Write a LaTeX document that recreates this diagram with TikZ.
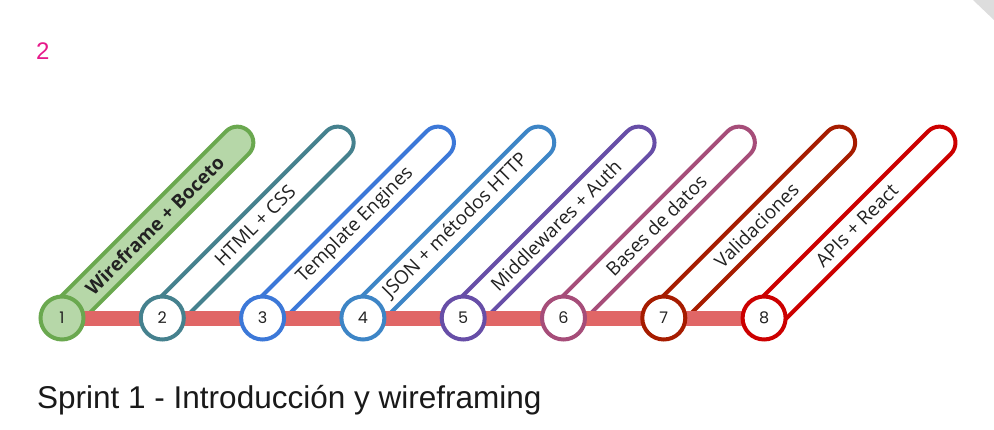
\documentclass[tikz,border=0pt]{standalone}
\usepackage{fontspec}
\setmainfont{Liberation Sans}
\newfontfamily\capfont{Open Sans}
\newfontfamily\numfont{Poppins}
\usetikzlibrary{backgrounds}
\definecolor{cA}{HTML}{6AA84F}
\definecolor{cAfill}{HTML}{B6D7A8}
\definecolor{cB}{HTML}{45818E}
\definecolor{cC}{HTML}{3C78D8}
\definecolor{cD}{HTML}{3D85C6}
\definecolor{cE}{HTML}{674EA7}
\definecolor{cF}{HTML}{A64D79}
\definecolor{cG}{HTML}{A61C00}
\definecolor{cH}{HTML}{CC0000}
\definecolor{railred}{HTML}{E06666}
\definecolor{pinknum}{HTML}{E6198A}
\definecolor{cornergray}{HTML}{DDDDDD}
\definecolor{txt}{HTML}{222222}
\begin{document}
\begin{tikzpicture}[x=1pt,y=1pt,
  capsule/.style={line width=4pt, fill=white, rounded corners=16pt},
  stn/.style={circle, line width=4pt, minimum size=43pt, inner sep=0pt, fill=white,
    font=\numfont\fontsize{16}{16}\selectfont, text=txt},
  lbl/.style={rotate=45, font=\capfont\fontsize{19}{19}\selectfont, text=txt, inner sep=0pt},
  rail/.style={line width=15pt, draw=railred}]
\useasboundingbox (0,0) rectangle (994,429);
\fill[cornergray] (973,429) -- (994,429) -- (994,409) -- cycle;
\node[anchor=base west, text=pinknum, font=\fontsize{24}{24}\selectfont, inner sep=0pt] (pagenum) at (36,369) {2};
\node[anchor=base west, font=\fontsize{31.5}{31.5}\selectfont, inner sep=0pt, text=black!90] (title) at (37,21) {Sprint 1 - Introducción y wireframing};

% stations
\node[stn, draw=cA, fill=cAfill] (s1) at (62,111) {1};
\node[stn, draw=cB] (s2) at (162.3,111) {2};
\node[stn, draw=cC] (s3) at (262.6,111) {3};
\node[stn, draw=cD] (s4) at (362.9,111) {4};
\node[stn, draw=cE] (s5) at (463.2,111) {5};
\node[stn, draw=cF] (s6) at (563.5,111) {6};
\node[stn, draw=cG] (s7) at (663.8,111) {7};
\node[stn, draw=cH] (s8) at (764.1,111) {8};

\begin{scope}[on background layer]
  \foreach \s/\c/\f in {s1/cA/cAfill, s2/cB/white, s3/cC/white, s4/cD/white, s5/cE/white, s6/cF/white, s7/cG/white, s8/cH/white}{
    \begin{scope}[shift={(\s.center)}, rotate=45]
      \draw[capsule, draw=\c, fill=\f] (-16,-16) rectangle (264,16);
    \end{scope}
  }
  \draw[rail] (s1.center) -- (s8.center);
\end{scope}

% labels
\node[lbl, font=\capfont\bfseries\fontsize{19}{19}\selectfont] (l1) at ([shift={(45:131)}]s1.center) {Wireframe + Boceto};
\node[lbl] (l2) at ([shift={(45:131)}]s2.center) {HTML + CSS};
\node[lbl] (l3) at ([shift={(45:131)}]s3.center) {Template Engines};
\node[lbl] (l4) at ([shift={(45:131)}]s4.center) {JSON + métodos HTTP};
\node[lbl] (l5) at ([shift={(45:131)}]s5.center) {Middlewares + Auth};
\node[lbl] (l6) at ([shift={(45:131)}]s6.center) {Bases de datos};
\node[lbl] (l7) at ([shift={(45:131)}]s7.center) {Validaciones};
\node[lbl] (l8) at ([shift={(45:131)}]s8.center) {APIs + React};
\end{tikzpicture}
\end{document}
